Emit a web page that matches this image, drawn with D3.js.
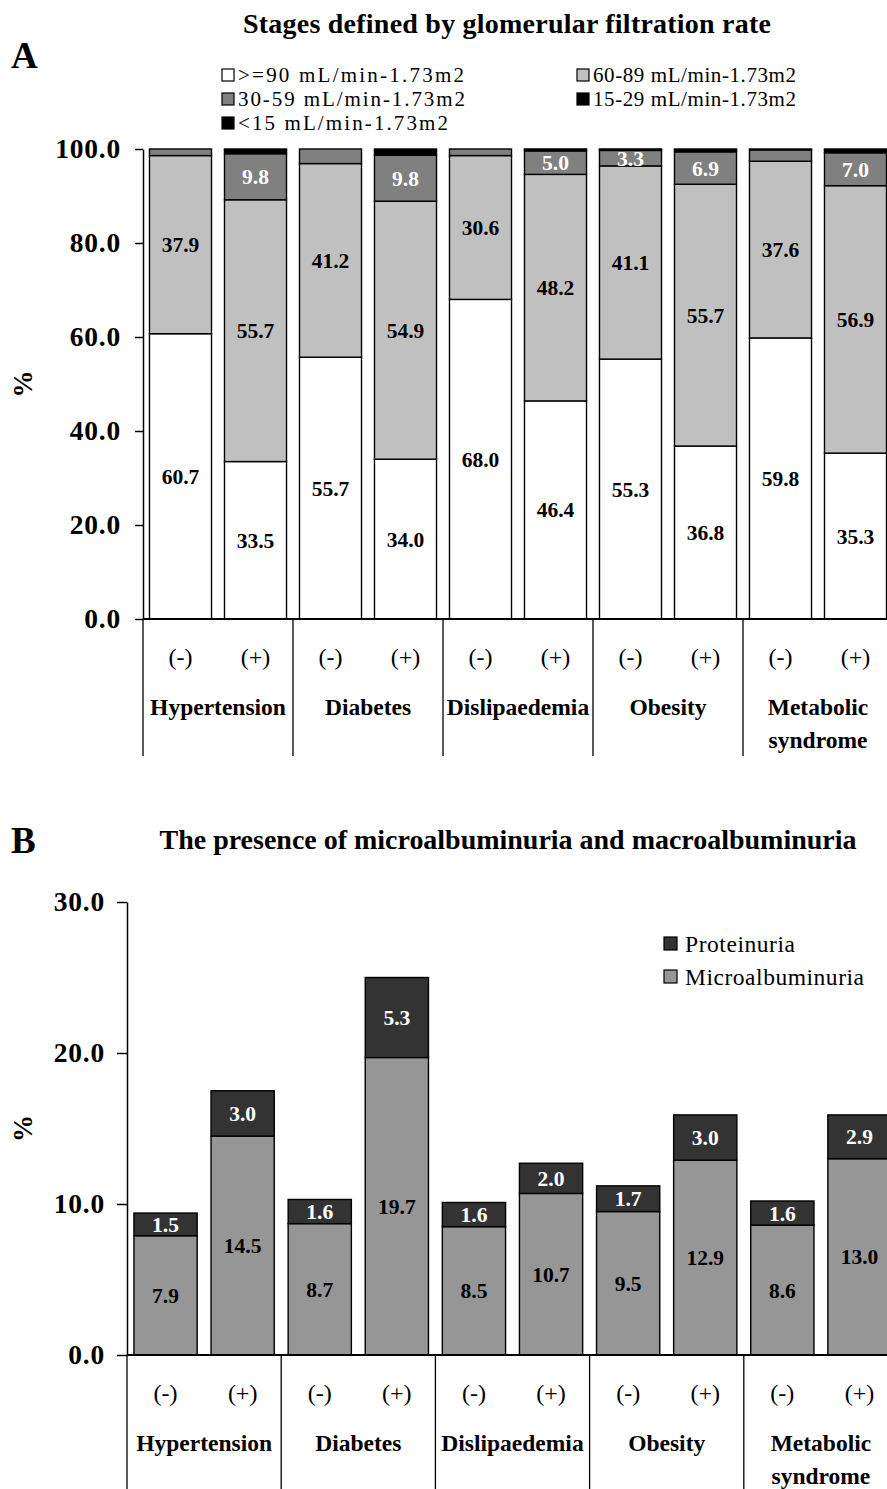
<!DOCTYPE html>
<html>
<head>
<meta charset="utf-8">
<script src="https://cdn.jsdelivr.net/npm/d3@7"></script>
<style>
  html, body { margin: 0; padding: 0; background: #fff; }
  svg { display: block; }
</style>
</head>
<body>
<svg id="chart" width="887" height="1489" font-family="Liberation Serif"></svg>
<script>
// ---- Data ----
const groups = ["Hypertension", "Diabetes", "Dislipaedemia", "Obesity", "Metabolic syndrome"];
const statuses = ["(-)", "(+)"];

// Panel A: eGFR stages, % of each subgroup (bar order: group x status)
const gfrSeriesNames = [">=90 mL/min-1.73m2", "60-89 mL/min-1.73m2", "30-59 mL/min-1.73m2", "15-29 mL/min-1.73m2", "<15 mL/min-1.73m2"];
const gfr90 = [60.7, 33.5, 55.7, 34.0, 68.0, 46.4, 55.3, 36.8, 59.8, 35.3];
const gfr60 = [37.9, 55.7, 41.2, 54.9, 30.6, 48.2, 41.1, 55.7, 37.6, 56.9];
const gfr30 = [1.4, 9.8, 3.1, 9.8, 1.4, 5.0, 3.3, 6.9, 2.4, 7.0];
const gfr15 = [0.0, 0.8, 0.0, 1.0, 0.0, 0.3, 0.2, 0.4, 0.2, 0.6];
const gfr0  = [0.0, 0.2, 0.0, 0.3, 0.0, 0.1, 0.1, 0.2, 0.0, 0.2];
const gfrTicks = [0, 20, 40, 60, 80, 100];

// Panel B: albuminuria, % of each subgroup
const albSeriesNames = ["Microalbuminuria", "Proteinuria"];
const micro   = [7.9, 14.5, 8.7, 19.7, 8.5, 10.7, 9.5, 12.9, 8.6, 13.0];
const protein = [1.5, 3.0, 1.6, 5.3, 1.6, 2.0, 1.7, 3.0, 1.6, 2.9];
const albTicks = [0, 10, 20, 30];

// ---- Setup ----
const FONT = "Liberation Serif";
const svg = d3.select("#chart");
svg.append("rect").attr("width", 887).attr("height", 1489).attr("fill", "#fff");
const fmt = d3.format(".1f");

const bars = [];
groups.forEach((g, gi) => statuses.forEach((s, si) => bars.push({ idx: gi * 2 + si, group: g, status: s })));

function fitText(sel, w) {
  sel.attr("textLength", w).attr("lengthAdjust", "spacing");
}

function drawPanel(opt) {
  const { y, x0, x1, keys, colors, labelColors, rows, ticks, tickSize, tickPad, labelMin, labelKeys } = opt;
  const yBase = y.range()[0];

  const xb = d3.scaleBand().domain(d3.range(bars.length)).range([x0, x1])
    .paddingInner(opt.pad).paddingOuter(opt.pad / 2);
  const xg = d3.scaleBand().domain(groups).range([x0, x1]);

  const stacked = d3.stack().keys(keys)(rows);

  const g = svg.append("g");
  stacked.forEach((layer, li) => {
    g.append("g").selectAll("rect").data(layer).join("rect")
      .attr("x", (d, i) => xb(i))
      .attr("width", xb.bandwidth())
      .attr("y", d => y(d[1]))
      .attr("height", d => Math.max(0, y(d[0]) - y(d[1])))
      .attr("fill", colors[li])
      .attr("stroke", "#000")
      .attr("stroke-width", 1.4)
      .attr("display", d => (d[1] - d[0]) > 0 ? null : "none");
  });

  // value labels
  stacked.forEach((layer, li) => {
    if (!labelKeys.includes(keys[li])) return;
    g.append("g").selectAll("text").data(layer.filter(d => (d[1] - d[0]) >= labelMin)).join("text")
      .attr("x", d => xb(rows.indexOf(d.data)) + xb.bandwidth() / 2)
      .attr("y", d => y((d[0] + d[1]) / 2))
      .attr("dy", "0.35em")
      .attr("text-anchor", "middle")
      .attr("font-family", FONT)
      .attr("font-weight", "bold")
      .attr("font-size", 21.5)
      .attr("fill", labelColors[li])
      .text(d => fmt(d[1] - d[0]));
  });

  // y axis
  const axis = d3.axisLeft(y).tickValues(ticks).tickFormat(fmt).tickSize(tickSize).tickSizeOuter(0).tickPadding(tickPad);
  const ag = svg.append("g").attr("transform", `translate(${x0},0)`).call(axis);
  ag.attr("font-family", FONT);
  ag.select(".domain").attr("stroke", "#000").attr("stroke-width", 1.5);
  ag.selectAll(".tick line").attr("stroke", "#000").attr("stroke-width", 1.5);
  ag.selectAll(".tick text")
    .attr("font-family", FONT)
    .attr("font-weight", "bold")
    .attr("font-size", 27.5)
    .attr("letter-spacing", 0.8)
    .attr("fill", "#000");

  // baseline and group dividers
  svg.append("line").attr("x1", x0).attr("x2", 887).attr("y1", yBase).attr("y2", yBase)
    .attr("stroke", "#000").attr("stroke-width", 2);
  const divs = groups.map(d => xg(d)).concat([x1]);
  svg.append("g").selectAll("line").data(divs).join("line")
    .attr("x1", d => d).attr("x2", d => d)
    .attr("y1", yBase).attr("y2", opt.divBottom)
    .attr("stroke", "#000").attr("stroke-width", 1.3);

  // status labels
  svg.append("g").selectAll("text").data(bars).join("text")
    .attr("x", d => xb(d.idx) + xb.bandwidth() / 2)
    .attr("y", yBase + 38)
    .attr("dy", "0.35em")
    .attr("text-anchor", "middle")
    .attr("font-family", FONT)
    .attr("font-size", 24)
    .text(d => d.status);

  // group names
  const names = svg.append("g").selectAll("text").data(groups).join("text")
    .attr("x", d => xg(d) + xg.bandwidth() / 2)
    .attr("y", yBase + 88)
    .attr("text-anchor", "middle")
    .attr("font-family", FONT)
    .attr("font-size", 23.5)
    .attr("font-weight", "bold");
  names.selectAll("tspan").data(d => d === "Metabolic syndrome" ? ["Metabolic", "syndrome"] : [d]).join("tspan")
    .attr("x", function () { return d3.select(this.parentNode).attr("x"); })
    .attr("dy", (d, i) => i === 0 ? "0.35em" : "1.4em")
    .text(d => d);

  // y title
  svg.append("text")
    .attr("transform", `translate(23,${(y.range()[0] + y.range()[1]) / 2}) rotate(-90)`)
    .attr("text-anchor", "middle")
    .attr("dy", "0.35em")
    .attr("font-family", FONT)
    .attr("font-size", 27)
    .attr("font-weight", "bold")
    .text("%");
}

// ---- Panel A ----
svg.append("text").attr("x", 11).attr("y", 68).attr("font-family", FONT).attr("font-size", 37).attr("font-weight", "bold").text("A");
svg.append("text").attr("x", 507).attr("y", 33).attr("text-anchor", "middle")
  .attr("font-family", FONT).attr("font-size", 28).attr("font-weight", "bold")
  .text("Stages defined by glomerular filtration rate").call(fitText, 528);

const rowsA = bars.map(b => ({ ...b, g90: gfr90[b.idx], g60: gfr60[b.idx], g30: gfr30[b.idx], g15: gfr15[b.idx], g0: gfr0[b.idx] }));
const keysA = ["g90", "g60", "g30", "g15", "g0"];
const colorsA = ["#ffffff", "#c0c0c0", "#808080", "#000000", "#000000"];

drawPanel({
  y: d3.scaleLinear().domain([0, 100]).range([619, 149]),
  x0: 143, x1: 893, pad: 0.173,
  keys: keysA, colors: colorsA,
  labelColors: ["#000", "#000", "#fff", "#fff", "#fff"],
  labelKeys: ["g90", "g60", "g30"], labelMin: 3.2,
  rows: rowsA, ticks: gfrTicks, tickSize: 8, tickPad: 14,
  divBottom: 756
});

// legend A
const legA = [
  { k: 0, x: 222, y: 75, w: 226 }, { k: 1, x: 577, y: 75, w: 203 },
  { k: 2, x: 222, y: 99, w: 227 }, { k: 3, x: 577, y: 99, w: 203 },
  { k: 4, x: 222, y: 123, w: 210 }
];
const lgA = svg.append("g").selectAll("g").data(legA).join("g");
lgA.append("rect").attr("x", d => d.x).attr("y", d => d.y - 6).attr("width", 12).attr("height", 12)
  .attr("fill", d => colorsA[d.k]).attr("stroke", "#000").attr("stroke-width", 1.2);
lgA.append("text").attr("x", d => d.x + 16).attr("y", d => d.y).attr("dy", "0.35em")
  .attr("font-family", FONT).attr("font-size", 21).text(d => gfrSeriesNames[d.k])
  .each(function (d) { d3.select(this).call(fitText, d.w); });

// ---- Panel B ----
svg.append("text").attr("x", 11).attr("y", 853).attr("font-family", FONT).attr("font-size", 37).attr("font-weight", "bold").text("B");
svg.append("text").attr("x", 508).attr("y", 849).attr("text-anchor", "middle")
  .attr("font-family", FONT).attr("font-size", 28).attr("font-weight", "bold")
  .text("The presence of microalbuminuria and macroalbuminuria").call(fitText, 697);

const rowsB = bars.map(b => ({ ...b, micro: micro[b.idx], protein: protein[b.idx] }));
const colorsB = ["#969696", "#333333"];

drawPanel({
  y: d3.scaleLinear().domain([0, 30]).range([1355, 902]),
  x0: 127, x1: 898, pad: 0.18,
  keys: ["micro", "protein"], colors: colorsB,
  labelColors: ["#000", "#fff"],
  labelKeys: ["micro", "protein"], labelMin: 0,
  rows: rowsB, ticks: albTicks, tickSize: 10, tickPad: 12,
  divBottom: 1489
});

// legend B
const legB = [
  { k: 1, y: 944, w: 110 }, { k: 0, y: 977, w: 179 }
];
const lgB = svg.append("g").selectAll("g").data(legB).join("g");
lgB.append("rect").attr("x", 664).attr("y", d => d.y - 7).attr("width", 13).attr("height", 13)
  .attr("fill", d => colorsB[d.k]).attr("stroke", "#000").attr("stroke-width", 1.2);
lgB.append("text").attr("x", 685).attr("y", d => d.y).attr("dy", "0.35em")
  .attr("font-family", FONT).attr("font-size", 23.5).text(d => albSeriesNames[d.k])
  .each(function (d) { d3.select(this).call(fitText, d.w); });
</script>
</body>
</html>
